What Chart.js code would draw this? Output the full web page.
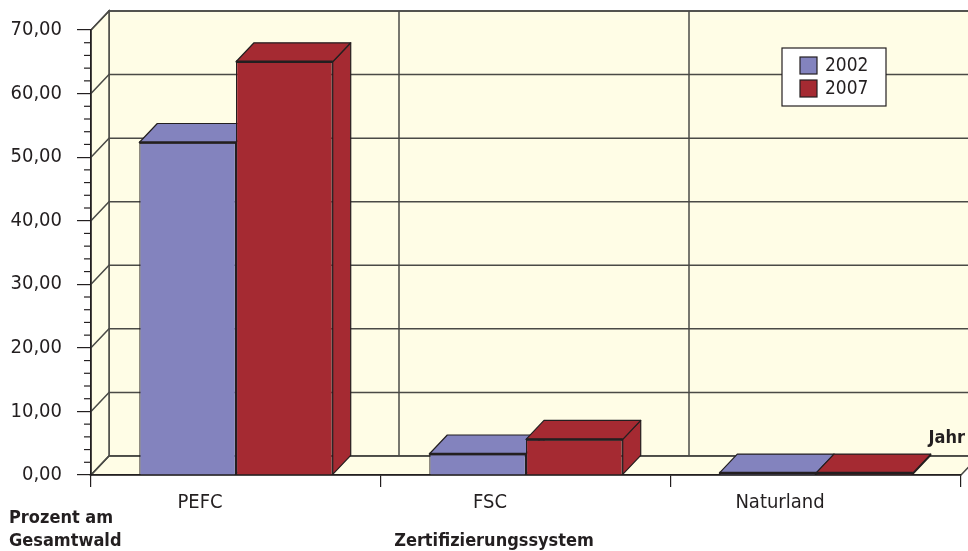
<!DOCTYPE html>
<html>
<head>
<meta charset="utf-8">
<script src="https://cdn.jsdelivr.net/npm/chart.js@4.4.1/dist/chart.umd.min.js"></script>
<style>
  body { margin: 0; background: #fff; }
  canvas { display: block; }
</style>
</head>
<body>
<canvas id="certChart" width="968" height="551"></canvas>
<script>
// ===== Data =====
const categories = ['PEFC', 'FSC', 'Naturland'];
const seriesLabels = ['2002', '2007'];
const values2002 = [52.3, 3.3, 0.3];
const values2007 = [65.0, 5.6, 0.3];
const yTicks = [0, 10, 20, 30, 40, 50, 60, 70];

// ===== Style =====
const BLUE = '#8383be';
const RED = '#a52a32';
const WALL = '#fffde6';
const LINE = '#4a4a46';
const EDGE = '#231f20';
const TEXT = '#231f20';
const FONT = '"DejaVu Sans Condensed", "DejaVu Sans", sans-serif';
const DX = 18, DY = -19;   // depth of the 3D box

const fmt = v => v.toFixed(2).replace('.', ',');

// walls, floor, back grid and minor ticks, drawn before the scales
const wallsPlugin = {
    id: 'walls',
    beforeDraw(chart) {
        const { ctx, chartArea: a, scales: { x, y } } = chart;
        ctx.save();
        ctx.fillStyle = WALL;
        ctx.strokeStyle = LINE;
        ctx.lineWidth = 1.5;

        // back wall
        ctx.fillRect(a.left + DX, a.top + DY, a.right - a.left, a.bottom - a.top);
        ctx.strokeRect(a.left + DX, a.top + DY, a.right - a.left, a.bottom - a.top);

        // side wall
        ctx.beginPath();
        ctx.moveTo(a.left, a.bottom);
        ctx.lineTo(a.left, a.top);
        ctx.lineTo(a.left + DX, a.top + DY);
        ctx.lineTo(a.left + DX, a.bottom + DY);
        ctx.closePath();
        ctx.fill();
        ctx.stroke();

        // floor
        ctx.beginPath();
        ctx.moveTo(a.left, a.bottom);
        ctx.lineTo(a.right, a.bottom);
        ctx.lineTo(a.right + DX, a.bottom + DY);
        ctx.lineTo(a.left + DX, a.bottom + DY);
        ctx.closePath();
        ctx.fill();
        ctx.stroke();

        // horizontal grid on side and back walls
        yTicks.forEach(v => {
            const py = y.getPixelForValue(v);
            ctx.beginPath();
            ctx.moveTo(a.left, py);
            ctx.lineTo(a.left + DX, py + DY);
            ctx.lineTo(a.right + DX, py + DY);
            ctx.stroke();
        });

        // category separators on back wall
        for (let i = 1; i < categories.length; i++) {
            const px = (x.getPixelForValue(i - 1) + x.getPixelForValue(i)) / 2 + DX;
            ctx.beginPath();
            ctx.moveTo(px, a.top + DY);
            ctx.lineTo(px, a.bottom + DY);
            ctx.stroke();
        }

        // minor ticks every 2
        ctx.strokeStyle = EDGE;
        ctx.lineWidth = 1.2;
        for (let v = 0; v <= 70; v += 2) {
            if (v % 10 === 0) continue;
            const py = y.getPixelForValue(v);
            ctx.beginPath();
            ctx.moveTo(a.left - 7, py);
            ctx.lineTo(a.left, py);
            ctx.stroke();
        }
        ctx.restore();
    },

    // top and side faces of every bar, fronts are drawn by Chart.js afterwards
    beforeDatasetsDraw(chart) {
        const { ctx } = chart;
        ctx.save();
        ctx.strokeStyle = EDGE;
        ctx.lineWidth = 1.2;
        ctx.lineJoin = 'round';
        chart.data.datasets.forEach((ds, i) => {
            chart.getDatasetMeta(i).data.forEach(bar => {
                const l = bar.x - bar.width / 2, r = bar.x + bar.width / 2;
                ctx.fillStyle = ds.backgroundColor;
                ctx.beginPath();
                ctx.moveTo(r, bar.y);
                ctx.lineTo(r + DX, bar.y + DY);
                ctx.lineTo(r + DX, bar.base + DY);
                ctx.lineTo(r, bar.base);
                ctx.closePath();
                ctx.fill();
                ctx.stroke();
                ctx.beginPath();
                ctx.moveTo(l, bar.y);
                ctx.lineTo(l + DX, bar.y + DY);
                ctx.lineTo(r + DX, bar.y + DY);
                ctx.lineTo(r, bar.y);
                ctx.closePath();
                ctx.fill();
                ctx.stroke();
            });
        });
        ctx.restore();
    },

    afterDatasetsDraw(chart) {
        const { ctx } = chart;
        ctx.save();
        ctx.strokeStyle = EDGE;
        ctx.lineWidth = 2.5;
        chart.data.datasets.forEach((ds, i) => {
            chart.getDatasetMeta(i).data.forEach(bar => {
                ctx.beginPath();
                ctx.moveTo(bar.x - bar.width / 2, bar.y);
                ctx.lineTo(bar.x + bar.width / 2, bar.y);
                ctx.stroke();
            });
        });
        ctx.restore();
    },

    // legend box and axis titles
    afterDraw(chart) {
        const { ctx } = chart;
        ctx.save();
        ctx.fillStyle = '#fff';
        ctx.strokeStyle = EDGE;
        ctx.lineWidth = 1.2;
        ctx.fillRect(782, 48, 104, 58);
        ctx.strokeRect(782, 48, 104, 58);
        chart.data.datasets.forEach((ds, i) => {
            const top = 57 + i * 23;
            ctx.fillStyle = ds.backgroundColor;
            ctx.fillRect(800, top, 17, 17);
            ctx.strokeRect(800, top, 17, 17);
            ctx.fillStyle = TEXT;
            ctx.font = `19px ${FONT}`;
            ctx.textBaseline = 'middle';
            ctx.fillText(ds.label, 825, top + 9);
        });

        ctx.fillStyle = TEXT;
        ctx.font = `bold 18px ${FONT}`;
        ctx.textBaseline = 'middle';
        ctx.textAlign = 'left';
        ctx.fillText('Prozent am', 9, 518);
        ctx.fillText('Gesamtwald', 9, 541);
        ctx.textAlign = 'center';
        ctx.fillText('Zertifizierungssystem', 494, 541);
        ctx.textAlign = 'right';
        ctx.fillText('Jahr', 965, 438);
        ctx.restore();
    }
};

new Chart(document.getElementById('certChart'), {
    type: 'bar',
    data: {
        labels: categories,
        datasets: [
            { label: seriesLabels[0], data: values2002, backgroundColor: BLUE },
            { label: seriesLabels[1], data: values2007, backgroundColor: RED }
        ]
    },
    options: {
        responsive: false,
        animation: false,
        layout: { padding: { top: 30, right: 7, left: 0, bottom: 0 } },
        datasets: {
            bar: {
                categoryPercentage: 0.667,
                barPercentage: 1.0,
                borderColor: EDGE,
                borderWidth: 1.2
            }
        },
        plugins: {
            legend: { display: false },
            tooltip: { enabled: false }
        },
        scales: {
            x: {
                afterFit: s => { s.height = 76; },
                grid: { drawOnChartArea: false, tickLength: 12, color: EDGE, lineWidth: 1.2, offset: true },
                border: { color: EDGE, width: 1.5 },
                ticks: { color: TEXT, font: { family: FONT, size: 20 }, padding: 4, labelOffset: -36 }
            },
            y: {
                min: 0,
                max: 70,
                afterFit: s => { s.width = 91; },
                afterBuildTicks: s => { s.ticks = yTicks.map(v => ({ value: v })); },
                grid: { drawOnChartArea: false, tickLength: 14, color: EDGE, lineWidth: 1.2 },
                border: { color: EDGE, width: 1.5 },
                ticks: { color: TEXT, font: { family: FONT, size: 20 }, padding: 15, callback: v => fmt(v) }
            }
        }
    },
    plugins: [wallsPlugin]
});
</script>
</body>
</html>
